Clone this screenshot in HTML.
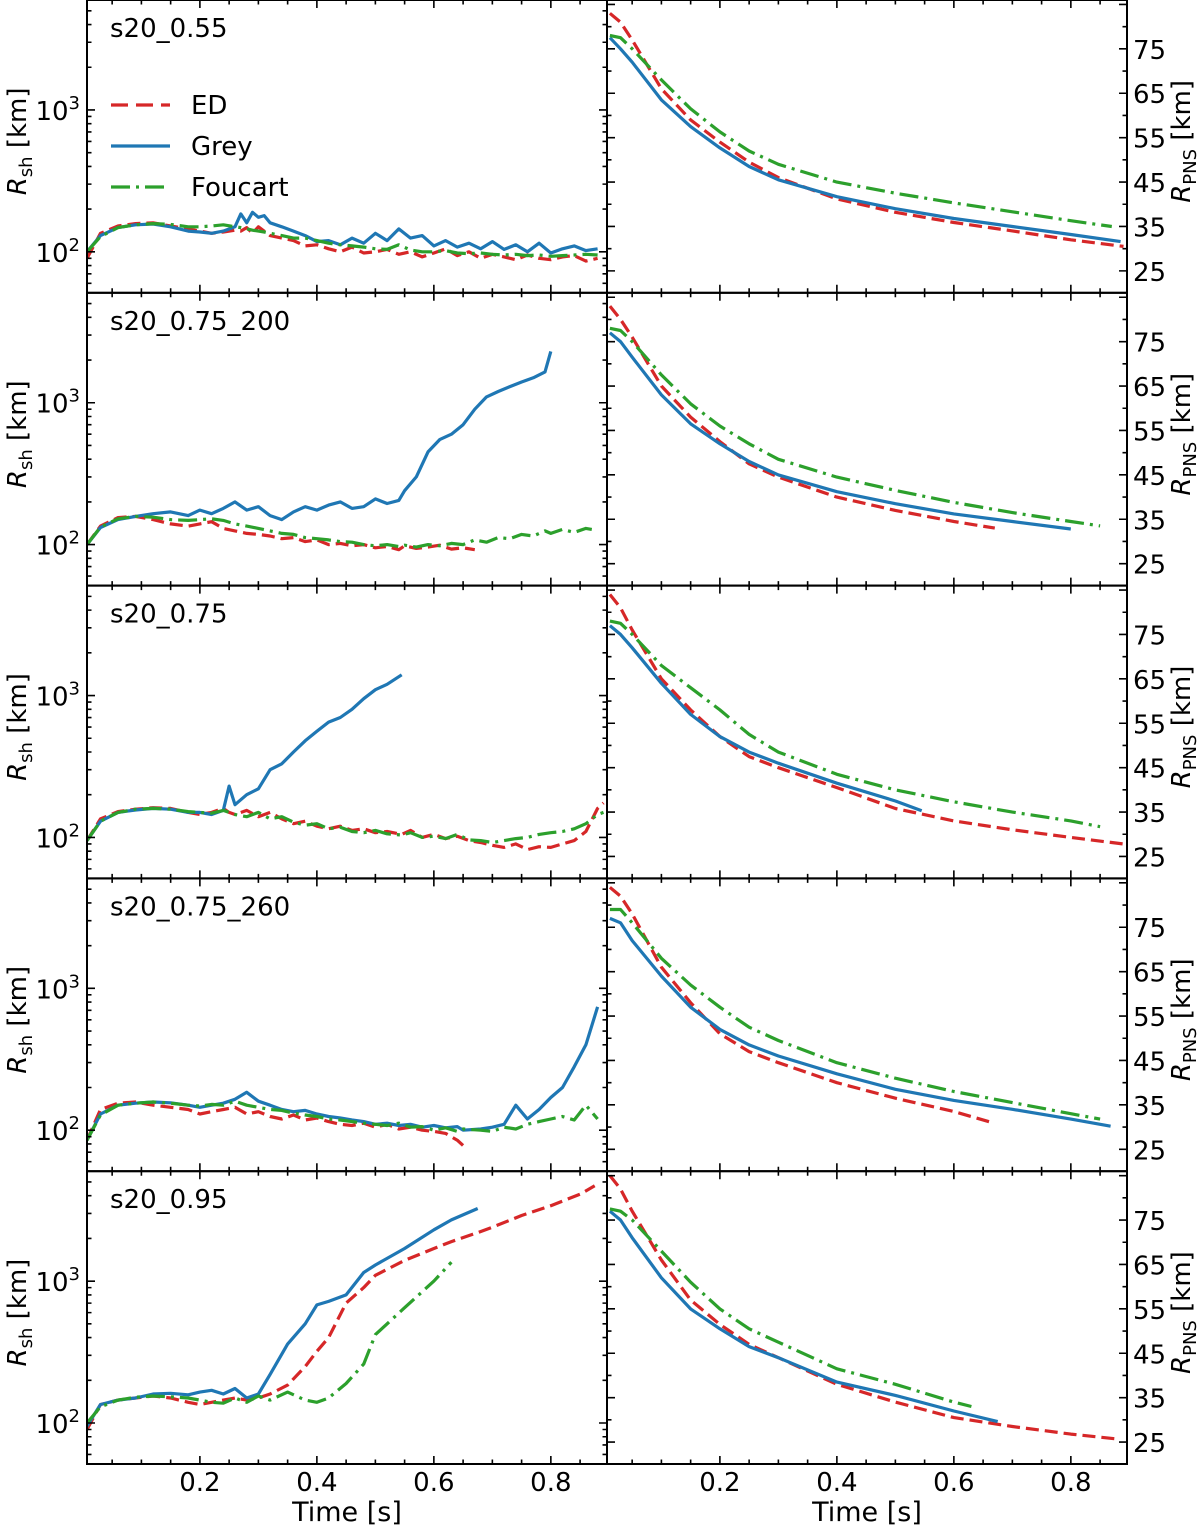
<!DOCTYPE html>
<html><head><meta charset="utf-8"><style>
html,body{margin:0;padding:0;background:#fff;}
svg{display:block;font-family:"DejaVu Sans","Liberation Sans",sans-serif;}
</style></head>
<body>
<svg id="fig" width="1200" height="1527" viewBox="0 0 1200 1527" xmlns="http://www.w3.org/2000/svg"></svg>
<script>
// ---------- data ----------
const panelTitles = ["s20_0.55","s20_0.75_200","s20_0.75","s20_0.75_260","s20_0.95"];
const seriesNames = ["ED","Grey","Foucart"];
// shock radius (left) - time arrays and values
const shT_1 = [0.007,0.03,0.06,0.09,0.12,0.15,0.18,0.2,0.22,0.24,0.26,0.27,0.28,0.29,0.30,0.31,0.32,0.34,0.36,0.38,0.40,0.42,0.44,0.46,0.48,0.50,0.52,0.54,0.56,0.58,0.60,0.62,0.64,0.66,0.68,0.70,0.72,0.74,0.76,0.78,0.80,0.82,0.84,0.86,0.88];
const shGrey_1 = [100,130,148,155,157,150,140,138,135,140,150,185,160,190,175,180,160,150,140,130,118,120,112,125,115,135,120,145,125,130,110,120,108,115,105,118,104,112,100,115,98,105,110,102,105];
const shED_1 = [90,135,152,158,160,152,145,140,135,138,142,140,148,135,150,140,130,125,120,110,112,105,100,108,98,100,104,96,100,92,98,105,94,100,90,96,92,88,95,90,88,92,94,86,90];
const shFou_1 = [100,128,148,155,158,156,150,150,152,155,150,148,145,142,140,138,135,130,125,125,120,115,112,110,108,105,104,112,103,100,100,102,98,97,98,96,95,96,94,95,93,94,95,96,95];
const shT_2 = [0.007,0.03,0.06,0.09,0.12,0.15,0.18,0.2,0.22,0.24,0.26,0.28,0.30,0.32,0.34,0.36,0.38,0.40,0.42,0.44,0.46,0.48,0.50,0.52,0.54,0.55,0.57,0.59,0.61,0.63,0.65,0.67,0.69,0.71,0.73,0.75,0.77,0.79,0.80,0.82,0.84,0.86,0.87];
const shGrey_2 = [100,132,150,158,165,170,160,175,165,180,200,175,185,160,150,170,185,175,190,200,180,185,210,195,205,240,300,450,550,600,700,900,1100,1200,1300,1400,1500,1650,2300];
const shED_2 = [100,135,155,158,150,140,135,140,145,130,125,120,118,115,110,112,105,108,100,102,98,100,95,97,92,98,94,96,99,93,95,92];
const shFou_2 = [100,133,152,158,156,150,148,150,152,148,140,135,130,125,120,118,112,110,108,105,104,100,98,100,97,99,96,100,98,102,100,108,104,112,110,118,115,125,120,128,122,130,128];
const shT_3 = [0.007,0.03,0.06,0.09,0.12,0.15,0.18,0.2,0.22,0.24,0.25,0.26,0.28,0.30,0.32,0.34,0.36,0.38,0.40,0.42,0.44,0.46,0.48,0.50,0.52,0.545,0.56,0.58,0.60,0.62,0.64,0.66,0.68,0.70,0.72,0.74,0.76,0.78,0.80,0.82,0.84,0.86,0.88,0.89];
const shGrey_3 = [95,130,150,156,160,158,150,150,145,155,230,170,200,220,300,330,400,480,560,650,700,800,950,1100,1200,1400];
const shED_3 = [95,135,152,158,162,160,150,145,150,160,150,145,155,140,150,135,125,130,120,115,120,112,115,108,110,105,112,100,105,98,102,95,92,88,85,90,82,86,85,90,95,110,160,175];
const shFou_3 = [95,130,150,158,160,158,152,150,148,155,150,145,140,150,135,140,128,122,125,115,118,110,108,112,106,104,108,100,102,98,105,96,95,92,95,98,100,105,108,110,115,125,145,150];
const shT_4 = [0.007,0.03,0.06,0.09,0.12,0.15,0.18,0.2,0.22,0.24,0.26,0.28,0.30,0.32,0.34,0.36,0.38,0.40,0.42,0.44,0.46,0.48,0.50,0.52,0.54,0.56,0.58,0.60,0.62,0.64,0.65,0.68,0.70,0.72,0.74,0.76,0.78,0.80,0.82,0.84,0.86,0.88];
const shGrey_4 = [85,130,150,155,158,156,150,145,150,155,165,185,160,150,140,135,138,130,125,122,118,115,110,112,108,110,105,108,104,106,100,102,105,110,150,120,140,170,200,280,400,740];
const shED_4 = [85,140,155,158,150,145,140,130,135,140,145,130,135,125,120,128,118,122,115,110,108,112,105,110,102,105,100,98,95,85,78];
const shFou_4 = [85,128,150,155,158,155,150,148,152,150,160,150,145,140,138,132,128,125,120,118,115,112,110,108,112,105,106,100,104,98,102,100,98,105,102,110,115,120,125,118,150,120];
const shT_5 = [0.007,0.03,0.06,0.09,0.12,0.15,0.18,0.2,0.22,0.24,0.26,0.28,0.30,0.32,0.35,0.38,0.40,0.42,0.45,0.48,0.50,0.55,0.60,0.63,0.675,0.70,0.75,0.80,0.85,0.875];
const shGrey_5 = [95,135,145,150,160,162,158,165,170,160,175,150,160,220,360,500,680,720,800,1150,1300,1700,2300,2700,3250];
const shED_5 = [90,135,145,150,155,150,140,135,140,145,150,145,150,160,185,250,320,400,700,900,1100,1400,1700,1900,2200,2400,2900,3400,4100,4700];
const shFou_5 = [100,130,145,152,155,153,150,145,140,138,150,140,155,145,165,145,140,150,190,260,420,650,1000,1360];
// PNS radius (right)
const pnsT = [0.012,0.03,0.05,0.1,0.15,0.2,0.25,0.3,0.4,0.5,0.6,0.7,0.8,0.88];
const pnsED_1 = [83,81,77,66,59,54,49.5,46,41.2,38.2,35.9,34,32,30.5];
const pnsGrey_1 = [77.5,75,72,63.5,57.5,52.7,48.5,45.5,41.7,39,36.8,35,33.2,31.6];
const pnsFou_1 = [78,77.5,75,68,61.5,56.3,52,49,45,42.5,40.3,38.3,36.3,35];
const pnsEnd_1 = [0.89,0.885,0.87];
const pnsED_2 = [83,80,76,65,58,52.5,47.5,44.5,40,37,34.5,33];
const pnsGrey_2 = [77,75,71.5,63,56.5,52,48,45,41.2,38.5,36.2,34.5,32.8];
const pnsFou_2 = [78,77.5,75,67.5,61,56,52,48.5,44.5,41.5,38.8,36.5,34.5,33.5];
const pnsEnd_2 = [0.67,0.8,0.85];
const pnsED_3 = [84,81,76,65,58,52,47.5,45,40.5,35.8,33,31,29.3,27.8];
const pnsGrey_3 = [77,75,72,64,57,52,48.5,46,41.5,37.5,35.3];
const pnsFou_3 = [78,77.5,75,68,63,58,52.5,48.5,43.5,40,37.3,35,33,31.7];
const pnsEnd_3 = [0.89,0.545,0.85];
const pnsED_4 = [84,82,78,66,58,51,47,44.5,40,36.5,33.5,31.2];
const pnsGrey_4 = [77,76,72,64,57,52,48.5,46,42,38.5,36,34,31.8,30.2];
const pnsFou_4 = [79,79,76,68,62,57,52.5,49.5,44.5,41,38,35.5,33,31.8];
const pnsEnd_4 = [0.66,0.868,0.85];
const pnsED_5 = [85,82,77,66,57,51.5,47,44,38,34,30.5,28.5,26.8,25.7];
const pnsGrey_5 = [77,75,71,62,55,50.5,46.5,44,38.5,35.5,32,29.6];
const pnsFou_5 = [77.5,77,75,68,61,55,50.5,47.5,41.5,38,34,33];
const pnsEnd_5 = [0.88,0.675,0.63];

const shTimes = [shT_1,shT_2,shT_3,shT_4,shT_5];
const shData = [[shED_1,shGrey_1,shFou_1],[shED_2,shGrey_2,shFou_2],[shED_3,shGrey_3,shFou_3],[shED_4,shGrey_4,shFou_4],[shED_5,shGrey_5,shFou_5]];
const pnsData = [[pnsED_1,pnsGrey_1,pnsFou_1],[pnsED_2,pnsGrey_2,pnsFou_2],[pnsED_3,pnsGrey_3,pnsFou_3],[pnsED_4,pnsGrey_4,pnsFou_4],[pnsED_5,pnsGrey_5,pnsFou_5]];
const pnsEnds = [pnsEnd_1,pnsEnd_2,pnsEnd_3,pnsEnd_4,pnsEnd_5];
const xTickLabels = ["0.2","0.4","0.6","0.8"];
const xTickVals = [0.2,0.4,0.6,0.8];
const pnsTickVals = [25,35,45,55,65,75];

// ---------- layout ----------
const NS = "http://www.w3.org/2000/svg";
const svg = document.getElementById('fig');
const L0 = 87, MID = 607, R1 = 1127, TOP = 0, ROWH = 292.8;
const XMIN = 0.007, XMAX = 0.896;
const LOGTOP = 3.775, LOGBOT = 1.711;
const PMIN = 20.06, PMAX = 86;
const colors = ["#d62728","#1f77b4","#2ca02c"];
const dashes = ["13,6","","19,6,3,6"];

function xs(t, left){ return left + (t - XMIN)/(XMAX - XMIN)*(MID-L0); }
function ysh(v, row){ return TOP + row*ROWH + (LOGTOP - Math.log10(v))/(LOGTOP-LOGBOT)*ROWH; }
function ypns(v, row){ return TOP + row*ROWH + (PMAX - v)/(PMAX-PMIN)*ROWH; }
function mk(tag, attrs){ const e = document.createElementNS(NS, tag); for (const k in attrs) e.setAttribute(k, attrs[k]); return e; }

const defs = mk('defs', {});
svg.appendChild(defs);
for (let c = 0; c < 2; c++) for (let r = 0; r < 5; r++) {
  const cp = mk('clipPath', {id: 'cp'+c+r});
  cp.appendChild(mk('rect', {x: c?MID:L0, y: TOP+r*ROWH, width: MID-L0, height: ROWH}));
  defs.appendChild(cp);
}

for (let r = 0; r < 5; r++) {
  const y0 = TOP + r*ROWH, y1 = y0 + ROWH;
  const gL = mk('g', {'clip-path': 'url(#cp0'+r+')'});
  
  
  svg.appendChild(gL);
  for (const s of [0,1,2]) {
    const vals = shData[r][s], ts = shTimes[r];
    let d = '';
    for (let i = 0; i < vals.length && i < ts.length; i++) d += (i?'L':'M') + xs(ts[i],L0).toFixed(1)+','+ysh(vals[i],r).toFixed(1);
    const p = mk('path', {d: d, fill:'none', stroke: colors[s], 'stroke-width': 3.2, 'stroke-linejoin':'round'});
    if (dashes[s]) p.setAttribute('stroke-dasharray', dashes[s]);
    
    
    gL.appendChild(p);
  }
  const gR = mk('g', {'clip-path': 'url(#cp1'+r+')'});
  
  
  svg.appendChild(gR);
  for (const s of [0,1,2]) {
    const vals = pnsData[r][s];
    const tt = pnsT.slice(0, vals.length);
    tt[tt.length-1] = pnsEnds[r][s];
    let d = '';
    for (let i = 0; i < vals.length; i++) d += (i?'L':'M') + xs(tt[i],MID).toFixed(1)+','+ypns(vals[i],r).toFixed(1);
    const p = mk('path', {d: d, fill:'none', stroke: colors[s], 'stroke-width': 3.2, 'stroke-linejoin':'round'});
    if (dashes[s]) p.setAttribute('stroke-dasharray', dashes[s]);
    
    
    gR.appendChild(p);
  }
  let td = '';
  for (const left of [L0, MID]) {
    for (let k = 1; k <= 17; k++) {
      const t = k*0.05; if (t < XMIN || t > XMAX) continue;
      const x = xs(t,left); const major = (k%4===0); const len = major?8:4.5;
      td += 'M'+x+','+y0+'v'+len+'M'+x+','+y1+'v'+(-len);
    }
  }
  for (let dec = 1; dec <= 3; dec++) for (let m = 1; m <= 9; m++) {
    const v = m*Math.pow(10,dec); const lv = Math.log10(v);
    if (lv < LOGBOT || lv > LOGTOP) continue;
    const y = ysh(v,r); const len = (m===1)?8:4.5;
    td += 'M'+L0+','+y+'h'+len+'M'+MID+','+y+'h'+(-len);
  }
  for (let v = 25; v <= 85; v += 5) {
    const y = ypns(v,r); const len = (v%10===5)?8:4.5;
    td += 'M'+MID+','+y+'h'+len+'M'+R1+','+y+'h'+(-len);
  }
  const tk = mk('path', {d: td, stroke:'#000', 'stroke-width':1.6, fill:'none'});
  
  
  svg.appendChild(tk);
  for (const left of [L0, MID]) {
    const fr = mk('rect', {x:left, y:y0, width: MID-L0, height: ROWH, fill:'none', stroke:'#000', 'stroke-width':2});
    
    
    svg.appendChild(fr);
  }
  for (const dec of [2,3]) {
    const tx = mk('text', {x: 80, y: ysh(Math.pow(10,dec),r)+10, 'font-size': 26, 'text-anchor':'end'});
    tx.innerHTML = '10<tspan dy="-11" font-size="18">'+dec+'</tspan>';
    
    
    svg.appendChild(tx);
  }
  for (const v of pnsTickVals) {
    const tx = mk('text', {x: 1133, y: ypns(v,r)+10, 'font-size': 26});
    tx.textContent = v;
    
    
    svg.appendChild(tx);
  }
  const cy = y0 + ROWH/2 - 5;
  const yl = mk('text', {x: 0, y: 0, 'font-size': 26, 'text-anchor':'middle', transform:'translate(26,'+cy+') rotate(-90)'});
  yl.innerHTML = '<tspan font-style="italic">R</tspan><tspan font-size="18" dy="6">sh</tspan><tspan dy="-6"> [km]</tspan>';
  
  
  svg.appendChild(yl);
  const yr = mk('text', {x: 0, y: 0, 'font-size': 26, 'text-anchor':'middle', transform:'translate(1190,'+cy+') rotate(-90)'});
  yr.innerHTML = '<tspan font-style="italic">R</tspan><tspan font-size="18" dy="6">PNS</tspan><tspan dy="-6"> [km]</tspan>';
  
  
  svg.appendChild(yr);
  const pt = mk('text', {x: 110, y: y0+37, 'font-size': 26});
  pt.textContent = panelTitles[r];
  
  
  svg.appendChild(pt);
}
for (const left of [L0, MID]) {
  for (let i = 0; i < xTickVals.length; i++) {
    const tx = mk('text', {x: xs(xTickVals[i],left), y: 1491, 'font-size': 26, 'text-anchor':'middle'});
    tx.textContent = xTickLabels[i];
    
    
    svg.appendChild(tx);
  }
  const xt = mk('text', {x: left + (MID-L0)/2, y: 1521, 'font-size': 27, 'text-anchor':'middle'});
  xt.textContent = 'Time [s]';
  
  
  svg.appendChild(xt);
}
const lg = mk('g', {});


svg.appendChild(lg);
const legY = [105, 146, 187];
for (let s = 0; s < 3; s++) {
  const ln = mk('line', {x1: 111, x2: 170, y1: legY[s], y2: legY[s], stroke: colors[s], 'stroke-width': 3.2});
  if (dashes[s]) ln.setAttribute('stroke-dasharray', s===0 ? '17,8' : '19,6,3,6');
  
  
  lg.appendChild(ln);
  const tx = mk('text', {x: 191, y: legY[s]+9, 'font-size': 26});
  tx.textContent = seriesNames[s];
  
  
  lg.appendChild(tx);
}
</script>
</body></html>
